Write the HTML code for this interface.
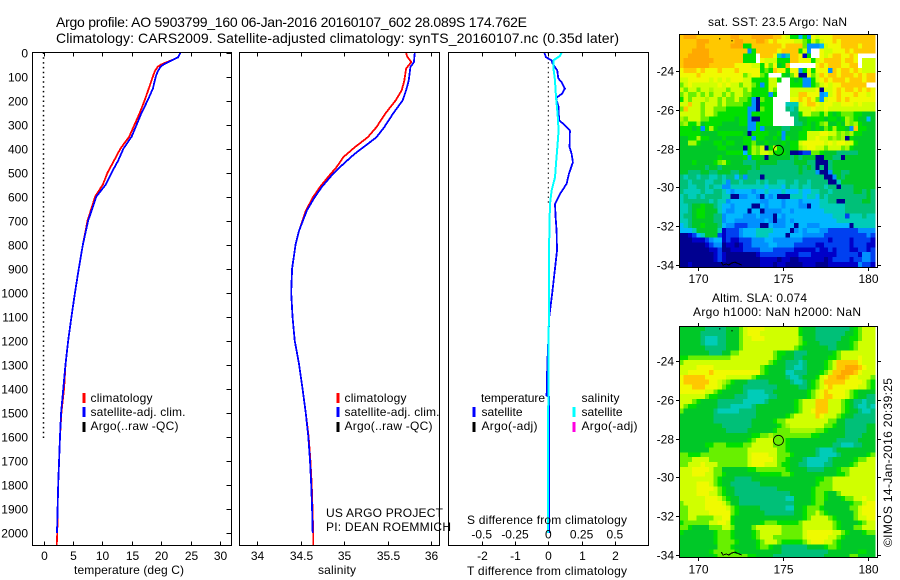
<!DOCTYPE html>
<html lang="en">
<head>
<meta charset="utf-8">
<title>Argo profile 5903799_160</title>
<style>
html,body{margin:0;padding:0;background:#fff;}
body{width:900px;height:580px;overflow:hidden;}
svg{display:block;}
text{font-family:"Liberation Sans",sans-serif;font-size:12px;fill:#000;}
.frame{fill:none;stroke:#000;stroke-width:1;shape-rendering:crispEdges;}
.mk{stroke-width:3;shape-rendering:crispEdges;}
</style>
</head>
<body>
<svg id="chart" xmlns="http://www.w3.org/2000/svg" width="900" height="580" viewBox="0 0 900 580">
  <defs>
    <clipPath id="clipSst"><rect x="679" y="34" width="198" height="233"/></clipPath>
    <clipPath id="clipSla"><rect x="679" y="326" width="198" height="231"/></clipPath>
  </defs>
  <text x="56" y="27" style="font-size:14px" textLength="471">Argo profile: AO 5903799_160 06-Jan-2016 20160107_602 28.089S 174.762E</text>
  <text x="56" y="43" style="font-size:14px" textLength="563">Climatology: CARS2009. Satellite-adjusted climatology: synTS_20160107.nc (0.35d later)</text>

  <g id="maps"></g>
  <g id="plots"></g>

  <rect class="frame" x="32.5" y="52.5" width="199" height="493"/>
  <rect class="frame" x="239.5" y="52.5" width="200" height="493"/>
  <rect class="frame" x="448.5" y="52.5" width="200" height="493"/>
  <rect class="frame" x="679.5" y="34.5" width="198" height="233"/>
  <rect class="frame" x="679.5" y="326.5" width="198" height="231"/>
  <g id="ticks"></g>

  <text x="74" y="574" textLength="110">temperature (deg C)</text>
  <text x="318" y="574" textLength="38">salinity</text>
  <text x="467" y="575" textLength="160">T difference from climatology</text>
  <text x="467" y="524" textLength="160">S difference from climatology</text>

  <g>
    <line class="mk" x1="84" x2="84" y1="393" y2="403" stroke="#ff0000"/>
    <line class="mk" x1="84" x2="84" y1="407" y2="417" stroke="#0000ff"/>
    <line class="mk" x1="84" x2="84" y1="422" y2="432" stroke="#000"/>
    <text x="90.5" y="402" textLength="62">climatology</text>
    <text x="90.5" y="416" textLength="95">satellite-adj. clim.</text>
    <text x="90.5" y="430" textLength="88">Argo(..raw -QC)</text>
  </g>
  <g>
    <line class="mk" x1="338" x2="338" y1="393" y2="403" stroke="#ff0000"/>
    <line class="mk" x1="338" x2="338" y1="407" y2="417" stroke="#0000ff"/>
    <line class="mk" x1="338" x2="338" y1="422" y2="432" stroke="#000"/>
    <text x="344.5" y="402" textLength="62">climatology</text>
    <text x="344.5" y="416" textLength="95">satellite-adj. clim.</text>
    <text x="344.5" y="430" textLength="88">Argo(..raw -QC)</text>
  </g>
  <g>
    <text x="481" y="402" textLength="64">temperature</text>
    <line class="mk" x1="474" x2="474" y1="407" y2="417" stroke="#0000ff"/>
    <text x="481.5" y="416" textLength="41">satellite</text>
    <line class="mk" x1="474" x2="474" y1="422" y2="432" stroke="#000"/>
    <text x="481.5" y="430" textLength="56">Argo(-adj)</text>
    <text x="581.5" y="402" textLength="38">salinity</text>
    <line class="mk" x1="574" x2="574" y1="407" y2="417" stroke="#00ffff"/>
    <text x="581.5" y="416" textLength="41">satellite</text>
    <line class="mk" x1="574" x2="574" y1="422" y2="432" stroke="#ff00e0"/>
    <text x="581.5" y="430" textLength="56">Argo(-adj)</text>
  </g>
  <text x="326" y="517" textLength="117">US ARGO PROJECT</text>
  <text x="326" y="531" textLength="125">PI: DEAN ROEMMICH</text>

  <text x="708" y="26" textLength="139">sat. SST: 23.5 Argo: NaN</text>
  <text x="712" y="302" textLength="95">Altim. SLA: 0.074</text>
  <text x="693" y="316" textLength="168">Argo h1000: NaN h2000: NaN</text>
  <text transform="translate(892,547) rotate(-90)" x="0" y="0" textLength="169">©IMOS 14-Jan-2016 20:39:25</text>
</svg>
<script>
// ---- profile data ----
const tempClimDepth = [0,20,30,40,50,60,80,100,150,200,250,300,350,400,450,500,550,600,700,800,900,1000,1100,1200,1300,1400,1500,1600,1700,1800,1900,2000,2055];
const tempClim = [23.3,22.9,22.0,21.0,20.0,19.4,18.9,18.6,17.9,17.2,16.4,15.5,14.6,13.1,12.0,10.9,10.1,8.8,7.5,6.7,6.0,5.35,4.76,4.2,3.75,3.5,3.05,2.8,2.65,2.5,2.4,2.35,2.25];
const tempSatDepth = [0,20,30,40,50,60,80,100,150,200,250,300,350,400,450,500,550,600,700,800,900,1000,1100,1200,1300,1400,1500,1600,1700,1800,1900,2003];
const tempSat = [23.3,22.9,22.0,21.2,20.4,19.9,19.4,19.1,18.6,17.7,16.7,15.85,15.0,13.6,12.7,11.6,10.6,9.0,7.6,6.7,6.0,5.35,4.76,4.2,3.75,3.37,3.0,2.8,2.65,2.5,2.4,2.3];
const salClimDepth = [0,15,40,67,117,158,200,255,311,353,395,436,478,520,561,603,658,742,800,900,1000,1100,1200,1300,1400,1500,1600,1700,1800,1900,2000,2055];
const salClim = [35.71,35.72,35.77,35.71,35.69,35.66,35.59,35.47,35.37,35.27,35.12,34.99,34.91,34.81,34.72,34.64,34.56,34.48,34.44,34.40,34.39,34.405,34.43,34.48,34.52,34.556,34.59,34.61,34.625,34.635,34.642,34.644];
const salSatDepth = [0,40,61,117,158,200,255,311,353,381,422,464,506,561,603,658,742,800,900,1000,1100,1200,1300,1400,1500,1600,1700,1800,1900,2003];
const salSat = [35.81,35.8,35.76,35.74,35.71,35.67,35.56,35.46,35.37,35.27,35.12,34.99,34.87,34.74,34.66,34.57,34.48,34.44,34.40,34.39,34.405,34.43,34.48,34.52,34.556,34.586,34.606,34.62,34.63,34.637];
const tDiffDepth = [0,20,33,46,75,108,124,150,171,190,228,283,297,325,394,422,457,506,547,589,631,686,742,825,900,1000,1100,1200,1300,1430,1435,1600,1800,2003];
const tDiff = [-0.12,-0.07,0.1,0.13,0.27,0.3,0.4,0.5,0.42,0.23,0.31,0.32,0.45,0.65,0.64,0.7,0.74,0.62,0.55,0.35,0.2,0.22,0.25,0.26,0.2,0.12,0.03,0.0,-0.03,-0.05,0.03,0.03,0.03,0.03];
const sDiffDepth = [0,14,33,61,117,186,256,325,381,464,520,575,631,742,900,1100,1300,1500,1800,2003];
const sDiff = [0.1,0.0875,0.0375,0.0375,0.05,0.0575,0.07,0.0775,0.07,0.0575,0.05,0.025,0.0125,0.0075,0.006,0.004,0.002,-0.001,-0.002,-0.002];

// ---- tick labels ----
const depthTicks = [0,100,200,300,400,500,600,700,800,900,1000,1100,1200,1300,1400,1500,1600,1700,1800,1900,2000];
const tempTicks = [0,5,10,15,20,25,30];
const salTicks = [34,34.5,35,35.5,36];
const tDiffTicks = [-2,-1,0,1,2];
const sDiffTicks = [-0.5,-0.25,0,0.25,0.5];
const lonTicks = [170,175,180];
const latTicks = [-24,-26,-28,-30,-32,-34];
const zeroDotsTempMaxDepth = 1610;
const zeroDotsDiffMaxDepth = 630;

// ---- map data: colour levels, 0 (lowest) to e (highest), w = missing ----
const levelColors = {0:'#000090',1:'#0000c8',2:'#0040f0',3:'#0090ff',4:'#00b8ff',5:'#00ccb8',6:'#00c078',7:'#00c828',8:'#00e000',9:'#68f000',a:'#a8f800',b:'#d0ff00',c:'#f0fa00',d:'#ffc800',e:'#ffa800',w:'#ffffff'};
const sstRows = [
"deeeddddddddeedd"+"deeeeeddcb88483c"+"bcccdddddddddd",
"ddddeeeddddddeed"+"ddeedcdccccbb98b"+"9bccdcdddddddd",
"ddddeeddddddeee8"+"8dddddddcdddd933"+"34bcccddddcddd",
"dddeeeeddddddddd"+"38dddddcdddd8b3w"+"wcbbcccdcddddd",
"ddeeeeedddddddd8"+"88wdddc535ddc18w"+"wcbcddccdcwwww",
"deeeeeeeddddddd8"+"88wcbbb888ddccc8"+"bcddddcddcwbbb",
"deeeeeeddddddccc"+"cbb8c9c78dwwwwww"+"cdcdddccddwbbb",
"cdddcdcccdcccdcc"+"ccc898dcc8cc38c8"+"ccc3dcddcdcbbb",
"ccccdcccccccccc9"+"bcc98www879c00c9"+"bdcddcdddcdcdd",
"bbcccccbcbcbcccb"+"b8888bb8ww878338"+"bcdcdddcdddcdd",
"9bcbbbbbbcbcbb9b"+"b9838bbwww888338"+"9bcbccddddddww",
"b9bb9bbabbb9bbb9"+"b8888b9wwwbbbbbb"+"c0bbcdcddcdcdc",
"9b99b9b9bb9b9bb9"+"9888838wwwbbddcc"+"c34bcdcccdccbc",
"8b9bbbabb9b99b99"+"830988wwwwccdcdc"+"93bccdcdcccccc",
"bbdbb9bbb9b99998"+"830888www555bcdd"+"cbccbbcccbcbbb",
"9dbbb9bb99988888"+"330988www656bbbc"+"bbcbbbbbbbbbbb",
"bbbbb9bb98888888"+"388888wwww668bb9"+"98a87899988777",
"a9bbb99888888788"+"300888wwwww67788"+"8878878a987747",
"9a88a78888777788"+"338888wwwww66787"+"89a7787a9a8777",
"8887838a87777777"+"3383777766777887"+"8798a8873d8877",
"8888877778888887"+"08888778377788bb"+"bccbb9a9a88777",
"7788a88777877778"+"83887787387788bb"+"cbb9a9a0877777",
"77aa877788788778"+"897787778788bccc"+"ccbcbccbb87777",
"7777777778877770"+"8a9b08b87788abcc"+"bb9bbb9a877777",
"7777777777788884"+"8a9bba8887001229"+"98777666667777",
"7777777778777778"+"3887077777676777"+"00776607777777",
"7778777789a87776"+"6677777666677766"+"00067777777777",
"7777776776777777"+"7676666666667676"+"06067777777777",
"7766677667776677"+"6666666666667666"+"30037766777777",
"6566566556566463"+"6660666666666666"+"66003767777777",
"6656665566536656"+"6656566556656656"+"66600577777777",
"6655665655335555"+"5555455546556556"+"66566066677777",
"6555565566543444"+"4344544454445445"+"56656666677676",
"5655656666550033"+"4430434000555455"+"46566666666676",
"5666666565534444"+"4443344434443444"+"45566006666776",
"5567787765443444"+"4004344434443304"+"45555556666666",
"5567887775433444"+"0440333344344444"+"44555556666666",
"5667887766344443"+"3343330434444444"+"44445552555655",
"5567777766344333"+"3333430334344444"+"44444555555555",
"4567787776433222"+"3330043334404433"+"34444444055555",
"4445777775122234"+"4455554444034344"+"43322222223333",
"0012457772122234"+"4455544440444333"+"33222222222232",
"0001112344121122"+"2333443333333222"+"22212222122221",
"0000001233011012"+"2333344333322222"+"11222222122211",
"0000000112001112"+"2223332222211111"+"21121222112212",
"0000000012100000"+"0012222221112221"+"11111222221332",
"0000000012100000"+"0001111011001111"+"11012222122332",
"0010000000000000"+"0001110110000111"+"00011111113221"
];
const slaRows = [
"777777666667779b"+"ccccbbbbbbbb8777"+"66666666789bbb",
"777776666667779b"+"cccbbbbbbbbb8777"+"66666667789bbb",
"7777765556677 79b".replace(' ','').slice(0,16)+"bcccbbbbbbbb9777"+"66666677889bbb",
"7777765556677 79b".replace(' ','').slice(0,16)+"bbbbbbbbbbbb9877"+"7666677789bbbb",
"7777776666677 79b".replace(' ','').slice(0,16)+"bbbbbbbbbbb98777"+"7776677789bbbb",
"77777776667799bb"+"bbbbbb9887766677"+"777789bbbbbbbb",
"889999999999bbbb"+"bbbbbb9877766777"+"777889bbbbcbbb",
"9bbbbbbbbbbbbbbb"+"bbbbb98776665677"+"7789bdddddcbbb",
"bbbbccccbbbbbbbb"+"bbb9877776655677"+"7789bddeeedcbb",
"bbcccccdcccccccc"+"ccc98777755666 77".replace(' ','')+"789bddeeedcbbb",
"cdddddcccccbbbbb"+"b987777776556777"+"8bcddeedccbbb9",
"cddddddccba98777"+"6666677777655678"+"9bdddddccccb98",
"cccdddcccb987776"+"6666666777776678"+"9bcdccccccbb98",
"ccccccbb98777776"+"5555667777777789"+"bcdccccb987777",
"bbbbbb9887777666"+"5555566777777789"+"bcddcccb987766",
"bbb9877776666665"+"5555677777789bbb"+"dddbbb98766566",
"b988777776665555"+"5677777777789bbb"+"dddbbb98765565",
"9777777765555566"+"667777777778 9bbc".replace(' ','')+"dddbbb98776556",
"7777777766666666"+"667777777 89bbbbb".replace(' ','')+"dcbbb987766666",
"7777777766666666"+"6777778 99bbbbbbb".replace(' ','')+"bbb99776666666",
"7777777777666666"+"677777789abbbbbb"+"bb998776666677",
"7777777777766666"+"77777789 99aaaaaa".replace(' ','')+"99877776666677",
"7777777777777777"+"7889 9a9999999998".replace(' ','')+"87777776666777",
"7777777777777777"+"89bbbb9998777777"+"77777666667777",
"7777778899988889"+"9bbbbb9998777777"+"77776655566777",
"7777777999999999"+"bbbbbbb998777777"+"65556777777777",
"9988899999999999"+"bccccbb999877777"+"65555677777789",
"999bbbb999999999"+"bcccccb998777655"+"555677777899bb",
"99bbbcbbb9999999"+"bcccbbb988776655"+"5566777789bbbb",
"bbbccccb99777777"+"8899999998777766"+"66777899bbbbbb",
"bbbcccbb99877777"+"7778888899877777"+"77777889bbbbbb",
"bbbbbbbb98777666"+"6777777777777777"+"8899bbbbbbbbbb",
"bbbbcccb98776666"+"6667777777777777"+"8999bbbbbbbbbb",
"bbbbccccb9877666"+"6666666777777778"+"9999bbbbbbbbbb",
"bbbbcccbb9877666"+"6666666666777778"+"998779bbbbbbbb",
"bbbbbbcccb987766"+"6666666665577778"+"99877789 9bbcbb".replace(' ','').slice(0,14),
"9bbbbbccccb97766"+"6666666666677778"+"99777777899bcc",
"99bbbbcccccb9877"+"7776666665577899"+"9877777799bccc",
"99bbbbbccccc9877"+"7777666666677899"+"b987777779bccc",
"99bb9999bbcc8777"+"777777777777789b"+"bbb9877779bbcc",
"8999999bbccb8777"+"7778999888889bbb"+"bbbb98777789bb",
"9987777999bb9777"+"79bbbbbb99999bbb"+"bbbb98777 99bbb".replace(' ',''),
"8777777789998777"+"789bbbbb99999bcc"+"ccccbb98777899",
"7777777789998777"+"789bbb9999999bcc"+"cccbb987777777",
"7777777789999877"+"7789bbb9888889bc"+"ccbb9877777777",
"7777777779998777"+"7789987766666677"+"77899877777777",
"7777777899999877"+"7777777766666666"+"66677777778877",
"7777777789999999"+"8877776666666666"+"66777777997777"
];
const gridLonStart = 168.94;
const sstLatStart = -22.09;
const slaLatStart = -22.21;
const gridStep = 0.25;
const floatLon = 174.762;
const floatLat = -28.089;
const coastLon = [171.4,171.5,171.7,171.85,172.0,172.2,172.45,172.6];
const coastLat = [-33.85,-34.0,-33.95,-34.0,-33.9,-33.85,-33.95,-34.0];
const speckLon = [171.28,172.0];
const speckLat = [-22.3,-22.4];

// ---- axis functions ----
const SVGNS = 'http://www.w3.org/2000/svg';
const yDepth = d => 52.5 + 0.24 * d;
const xTemp = t => 43.5 + 5.88 * t;
const xSal = s => 257.3 + 87 * (s - 34);
const xDiffT = t => 548.3 + 33.3 * t;
const xDiffS = s => 548.3 + 133.2 * s;
const xLon = lon => 697.5 + 17 * (lon - 170);
const ySst = lat => 71 + 19.4 * (-24 - lat);
const ySla = lat => 361 + 19.4 * (-24 - lat);

const plots = document.getElementById('plots');
const maps = document.getElementById('maps');
const ticks = document.getElementById('ticks');

function mk(parent, tag, attrs) {
  const el = document.createElementNS(SVGNS, tag);
  for (const k in attrs) el.setAttribute(k, attrs[k]);
  parent.appendChild(el);
  return el;
}
function drawLine(name, depths, values, xf, color, width) {
  const pts = depths.map((d, i) => xf(values[i]).toFixed(1) + ',' + yDepth(d).toFixed(1)).join(' ');
  const el = mk(plots, 'polyline', {points: pts, fill: 'none', stroke: color, 'stroke-width': width, 'stroke-linejoin': 'round', 'shape-rendering': 'crispEdges'});
  
  
}
function tickMark(name, x1, y1, x2, y2) {
  const el = mk(ticks, 'line', {x1: x1, y1: y1, x2: x2, y2: y2, stroke: '#000', 'stroke-width': 1, 'shape-rendering': 'crispEdges'});
  
  
}
function label(name, str, x, y, anchor) {
  const el = mk(ticks, 'text', {x: x, y: y, 'text-anchor': anchor});
  el.textContent = str;
  
  
}
function drawGrid(name, rows, latStart, yf, clipId) {
  const g = mk(maps, 'g', {'clip-path': 'url(#' + clipId + ')', 'shape-rendering': 'crispEdges'});
  
  
  rows.forEach((row, r) => {
    for (let c = 0; c < row.length && c < 46; c++) {
      const lon = gridLonStart + c * gridStep;
      const lat = latStart - r * gridStep;
      const x = xLon(lon);
      const y = yf(lat);
      const el = mk(g, 'rect', {x: x.toFixed(2), y: y.toFixed(2), width: (xLon(lon + gridStep) - x + 0.4).toFixed(2), height: (yf(lat - gridStep) - y + 0.4).toFixed(2), fill: levelColors[row[c]]});
      
      
    }
  });
}
function drawOverlay(prefix, yf) {
  const coastPts = coastLon.map((lon, i) => xLon(lon).toFixed(1) + ',' + yf(coastLat[i]).toFixed(1)).join(' ');
  const coast = mk(maps, 'polyline', {points: coastPts, fill: 'none', stroke: '#000', 'stroke-width': 1, 'shape-rendering': 'crispEdges'});
  
  
  speckLon.forEach((lon, i) => {
    const sp = mk(maps, 'rect', {x: xLon(lon), y: yf(speckLat[i]), width: 1, height: 1.5, fill: '#000'});
    
    
  });
  const circ = mk(maps, 'circle', {cx: xLon(floatLon), cy: yf(floatLat), r: 5, fill: 'none', stroke: '#000', 'stroke-width': 0.8});
  
  
}

// maps
drawGrid('sst-map', sstRows, sstLatStart, ySst, 'clipSst');
drawGrid('sla-map', slaRows, slaLatStart, ySla, 'clipSla');
drawOverlay('sst', ySst);
drawOverlay('sla', ySla);

// zero reference dots
const dotsT = mk(plots, 'line', {x1: xTemp(0), x2: xTemp(0), y1: yDepth(0), y2: yDepth(zeroDotsTempMaxDepth), stroke: '#000', 'stroke-width': 1.5, 'stroke-dasharray': '1.5 3.3'});


const dotsD = mk(plots, 'line', {x1: xDiffT(0), x2: xDiffT(0), y1: yDepth(0), y2: yDepth(zeroDotsDiffMaxDepth), stroke: '#000', 'stroke-width': 1, 'stroke-dasharray': '1.5 3.3'});



// profile lines
drawLine('temperature-climatology-line', tempClimDepth, tempClim, xTemp, '#ff0000', 1.8);
drawLine('temperature-satellite-line', tempSatDepth, tempSat, xTemp, '#0000ff', 1.8);
drawLine('salinity-climatology-line', salClimDepth, salClim, xSal, '#ff0000', 1.8);
drawLine('salinity-satellite-line', salSatDepth, salSat, xSal, '#0000ff', 1.8);
drawLine('t-difference-satellite-line', tDiffDepth, tDiff, xDiffT, '#0000ff', 1.8);
drawLine('s-difference-satellite-line', sDiffDepth, sDiff, xDiffS, '#00ffff', 2);

// depth ticks
depthTicks.forEach(d => {
  const y = Math.round(yDepth(d)) + 0.5;
  tickMark('depth-tick', 226.5, y, 231.5, y);
  label('depth-tick-label', String(d), 28, y + 4, 'end');
});
// temperature ticks
tempTicks.forEach(t => {
  const x = Math.round(xTemp(t)) + 0.5;
  tickMark('temperature-tick-top', x, 52.5, x, 56.5);
  tickMark('temperature-tick-bottom', x, 541.5, x, 545.5);
  label('temperature-tick-label', String(t), x, 560, 'middle');
});
// salinity ticks
salTicks.forEach(s => {
  const x = Math.round(xSal(s)) + 0.5;
  tickMark('salinity-tick-top', x, 52.5, x, 56.5);
  tickMark('salinity-tick-bottom', x, 541.5, x, 545.5);
  label('salinity-tick-label', String(s), x, 560, 'middle');
});
// difference ticks
tDiffTicks.forEach(t => {
  const x = Math.round(xDiffT(t)) + 0.5;
  tickMark('t-difference-tick-top', x, 52.5, x, 56.5);
  tickMark('t-difference-tick-bottom', x, 541.5, x, 545.5);
  label('t-difference-tick-label', String(t), x, 560, 'middle');
});
sDiffTicks.forEach(s => {
  label('s-difference-tick-label', String(s), xDiffS(s), 538.5, 'middle');
});
// map ticks
lonTicks.forEach(lon => {
  const x = Math.round(xLon(lon)) + 0.5;
  tickMark('sst-lon-tick-top', x, 31, x, 34.5);
  tickMark('sst-lon-tick-bottom', x, 267.5, x, 271);
  tickMark('sla-lon-tick-top', x, 323, x, 326.5);
  tickMark('sla-lon-tick-bottom', x, 557.5, x, 561);
  label('sst-lon-label', String(lon), x, 283, 'middle');
  label('sla-lon-label', String(lon), x, 573.5, 'middle');
});
latTicks.forEach(lat => {
  const y1 = Math.round(ySst(lat)) + 0.5;
  const y2 = Math.round(ySla(lat)) + 0.5;
  tickMark('sst-lat-tick-left', 676, y1, 679.5, y1);
  tickMark('sst-lat-tick-right', 877.5, y1, 881, y1);
  tickMark('sla-lat-tick-left', 676, y2, 679.5, y2);
  tickMark('sla-lat-tick-right', 877.5, y2, 881, y2);
  label('sst-lat-label', String(lat), 674, y1 + 4, 'end');
  label('sla-lat-label', String(lat), 674, y2 + 4, 'end');
});
</script>
</body>
</html>
